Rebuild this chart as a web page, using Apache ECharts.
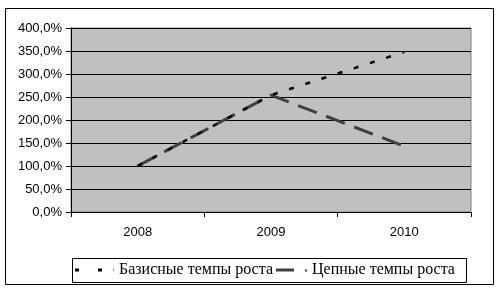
<!DOCTYPE html>
<html><head><meta charset="utf-8">
<script src="https://cdn.jsdelivr.net/npm/echarts@6/dist/echarts.min.js"></script>
<style>html,body{margin:0;padding:0;background:#fff}#c{width:504px;height:292px}</style>
</head><body><div id="c"></div>
<script>
const categories = ['2008', '2009', '2010'];
const basisRates = [100.0, 254.0, 348.0];
const chainRates = [100.0, 254.0, 143.0];
const seriesNames = ['Базисные темпы роста', 'Цепные темпы роста'];

const legendText = {fontFamily: '"Liberation Serif", "DejaVu Serif", serif', fontSize: 16, color: '#000'};
const chart = echarts.init(document.getElementById('c'), null, {renderer: 'canvas'});
chart.setOption({
  animation: false,
  backgroundColor: '#fff',
  graphic: [
    {type: 'rect', shape: {x: 5.5, y: 8.5, width: 488, height: 276}, style: {fill: 'none', stroke: '#000', lineWidth: 1}, z: -1},
    {type: 'rect', shape: {x: 72.5, y: 258.5, width: 394, height: 24}, style: {fill: 'none', stroke: '#000', lineWidth: 1}, z: -1}
  ],
  grid: {left: 71, right: 33, top: 28, bottom: 80, show: true, backgroundColor: '#c0c0c0', borderColor: '#808080', borderWidth: 1},
  legend: [
    {
      left: 75, top: 262, padding: 0,
      itemWidth: 39, itemHeight: 3, symbolKeepAspect: false,
      textStyle: legendText,
      data: [{name: seriesNames[0], icon: 'path://M0,0h4v3h-4z M23,0h4v3h-4z M38,1h1v1h-1z', itemStyle: {color: '#000'}}]
    },
    {
      left: 276, top: 262, padding: 0,
      itemWidth: 31, itemHeight: 3, symbolKeepAspect: false,
      textStyle: legendText,
      data: [{name: seriesNames[1], icon: 'path://M0,0h18v3h-18z M29,1h2v2h-2z', itemStyle: {color: '#404040'}}]
    }
  ],
  xAxis: {
    type: 'category', data: categories, boundaryGap: true,
    axisLine: {lineStyle: {color: '#000'}},
    axisTick: {show: true, length: 5, lineStyle: {color: '#000'}},
    axisLabel: {fontFamily: 'Liberation Sans', fontSize: 13, color: '#000', margin: 14}
  },
  yAxis: {
    type: 'value', min: 0, max: 400, interval: 50,
    axisLine: {show: true, lineStyle: {color: '#000'}},
    axisTick: {show: true, length: 5, lineStyle: {color: '#000'}},
    splitLine: {lineStyle: {color: '#000', width: 1}},
    axisLabel: {fontFamily: 'Liberation Sans', fontSize: 13, color: '#000', margin: 9,
      formatter: v => v.toFixed(1).replace('.', ',') + '%'}
  },
  series: [
    {name: seriesNames[0], type: 'line', data: basisRates, symbol: 'none', showSymbol: false,
     itemStyle: {color: '#000'},
     lineStyle: {color: '#000', width: 2.5, type: [5, 12]}, z: 3},
    {name: seriesNames[1], type: 'line', data: chainRates, symbol: 'none', showSymbol: false,
     itemStyle: {color: '#404040'},
     lineStyle: {color: '#404040', width: 3, type: [20, 10]}, z: 2}
  ]
});
</script></body></html>
